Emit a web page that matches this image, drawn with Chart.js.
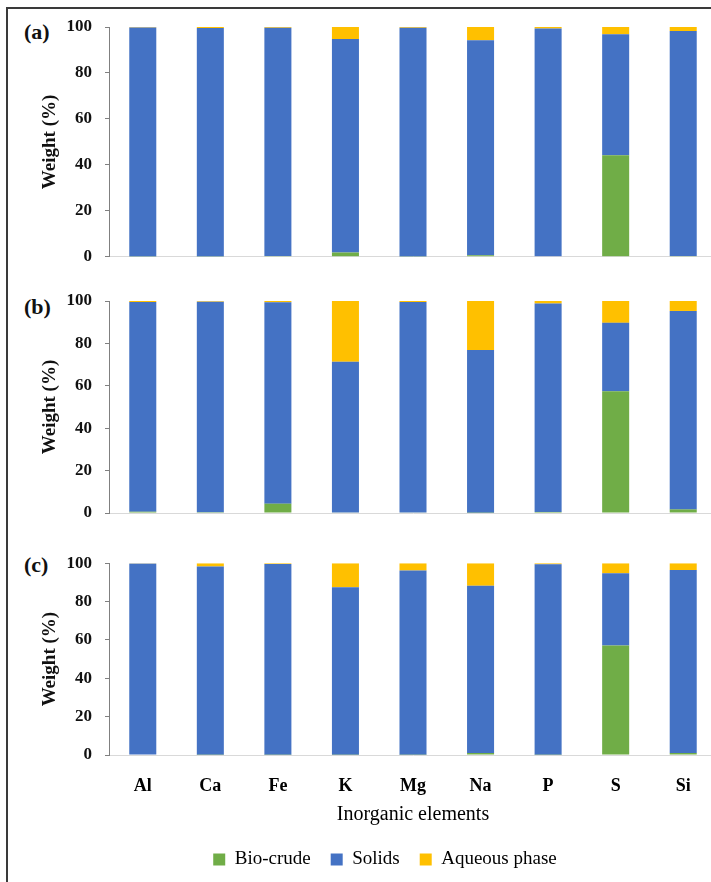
<!DOCTYPE html>
<html>
<head>
<meta charset="utf-8">
<script src="https://cdn.jsdelivr.net/npm/chart.js@4/dist/chart.umd.min.js"></script>
<style>
  html, body { margin: 0; padding: 0; background: #fff; width: 711px; height: 882px; overflow: hidden; }
  .wrap { position: absolute; left: 0; }
  canvas { display: block; }
  .frameL { position: absolute; left: 6px; top: 7px; width: 2px; height: 900px; background: #3a3a3a; }
  .frameT { position: absolute; left: 6px; top: 7px; width: 720px; height: 2px; background: #3a3a3a; }
  .plabel { position: absolute; left: 24px; font-family: 'Liberation Serif', serif; font-weight: bold; font-size: 22px; line-height: 24px; color: #111; }
</style>
</head>
<body>
<div class="frameL"></div>
<div class="frameT"></div>
<div class="plabel" style="top:20px">(a)</div>
<div class="plabel" style="top:295px">(b)</div>
<div class="plabel" style="top:553px">(c)</div>
<div class="wrap" style="top:0px"><canvas id="ca" width="770" height="280"></canvas></div>
<div class="wrap" style="top:270px"><canvas id="cb" width="770" height="270"></canvas></div>
<div class="wrap" style="top:540px"><canvas id="cc" width="770" height="342"></canvas></div>
<script>
const categories = ['Al', 'Ca', 'Fe', 'K', 'Mg', 'Na', 'P', 'S', 'Si'];
const seriesNames = ['Bio-crude', 'Solids', 'Aqueous phase'];
const yTicks = [0, 20, 40, 60, 80, 100];

// Panel (a)
const bioA = [0.1, 0.1, 0.3, 1.9, 0.1, 0.7, 0.2, 44.2, 0.3];
const solA = [99.7, 99.5, 99.4, 92.9, 99.6, 93.5, 99.2, 52.6, 98.0];
const aqA  = [0.2, 0.4, 0.3, 5.2, 0.3, 5.8, 0.6, 3.2, 1.7];
// Panel (b)
const bioB = [0.6, 0.4, 4.4, 0.2, 0.2, 0.1, 0.5, 57.4, 1.7];
const solB = [98.9, 99.3, 95.0, 71.1, 99.3, 76.8, 98.3, 32.3, 93.6];
const aqB  = [0.5, 0.3, 0.6, 28.7, 0.5, 23.1, 1.2, 10.3, 4.7];
// Panel (c)
const bioC = [0.0, 0.1, 0.1, 0.1, 0.1, 1.0, 0.1, 57.1, 1.0];
const solC = [99.9, 98.2, 99.5, 87.4, 96.1, 87.3, 99.3, 37.6, 95.4];
const aqC  = [0.1, 1.7, 0.4, 12.5, 3.8, 11.7, 0.6, 5.3, 3.6];

const colors = ['#70AD47', '#4472C4', '#FFC000'];
const SERIF = "'Liberation Serif', 'Times New Roman', serif";

function makeDatasets(bio, sol, aq) {
  return [bio, sol, aq].map((d, i) => ({
    label: seriesNames[i],
    data: d,
    backgroundColor: colors[i],
    borderWidth: 0,
    categoryPercentage: 1.0,
    barPercentage: 0.4
  }));
}

function makeChart(id, bio, sol, aq, opts) {
  const isLast = opts.last;
  return new Chart(document.getElementById(id), {
    type: 'bar',
    data: { labels: categories, datasets: makeDatasets(bio, sol, aq) },
    options: {
      responsive: false,
      animation: false,
      devicePixelRatio: 1,
      layout: { padding: { top: opts.padTop, bottom: opts.padBottom, left: 0, right: 0 } },
      plugins: {
        legend: {
          display: isLast,
          position: 'bottom',
          labels: {
            boxWidth: 12,
            boxHeight: 12,
            padding: 20,
            color: '#000',
            font: { family: SERIF, size: 19 }
          }
        },
        tooltip: { enabled: false }
      },
      scales: {
        x: {
          stacked: true,
          offset: true,
          grid: { display: false, drawOnChartArea: false, drawTicks: false },
          border: { display: true, color: '#d9d9d9', width: 1 },
          ticks: {
            display: isLast,
            padding: 21,
            color: '#000',
            font: { family: SERIF, size: 18, weight: 'bold' },
            maxRotation: 0
          },
          title: {
            display: isLast,
            text: 'Inorganic elements',
            color: '#000',
            font: { family: SERIF, size: 20 },
            padding: { top: 0, bottom: 3 }
          },
          afterFit: (s) => { s.height = isLast ? 75 : 0; }
        },
        y: {
          stacked: true,
          min: 0,
          max: 100,
          afterBuildTicks: (s) => { s.ticks = yTicks.map(v => ({ value: v })); },
          grid: { drawOnChartArea: false, drawTicks: true, tickLength: 4, color: '#808080' },
          border: { display: true, color: '#808080', width: 1 },
          ticks: {
            padding: 13,
            color: '#111',
            font: { family: SERIF, size: 17, weight: 'bold' }
          },
          title: {
            display: true,
            text: 'Weight (%)',
            color: '#111',
            font: { family: SERIF, size: 19, weight: 'bold' },
            padding: { top: 38.6, bottom: 0 }
          },
          afterFit: (s) => { s.width = 109; }
        },
        yR: {
          type: 'linear',
          position: 'right',
          display: true,
          grid: { display: false, drawTicks: false },
          border: { display: false },
          ticks: { display: false },
          afterFit: (s) => { s.width = 53; }
        }
      }
    }
  });
}

makeChart('ca', bioA, solA, aqA, { padTop: 27, padBottom: 23, last: false });
makeChart('cb', bioB, solB, aqB, { padTop: 31, padBottom: 27, last: false });
makeChart('cc', bioC, solC, aqC, { padTop: 23, padBottom: 3, last: true });
</script>
</body>
</html>
